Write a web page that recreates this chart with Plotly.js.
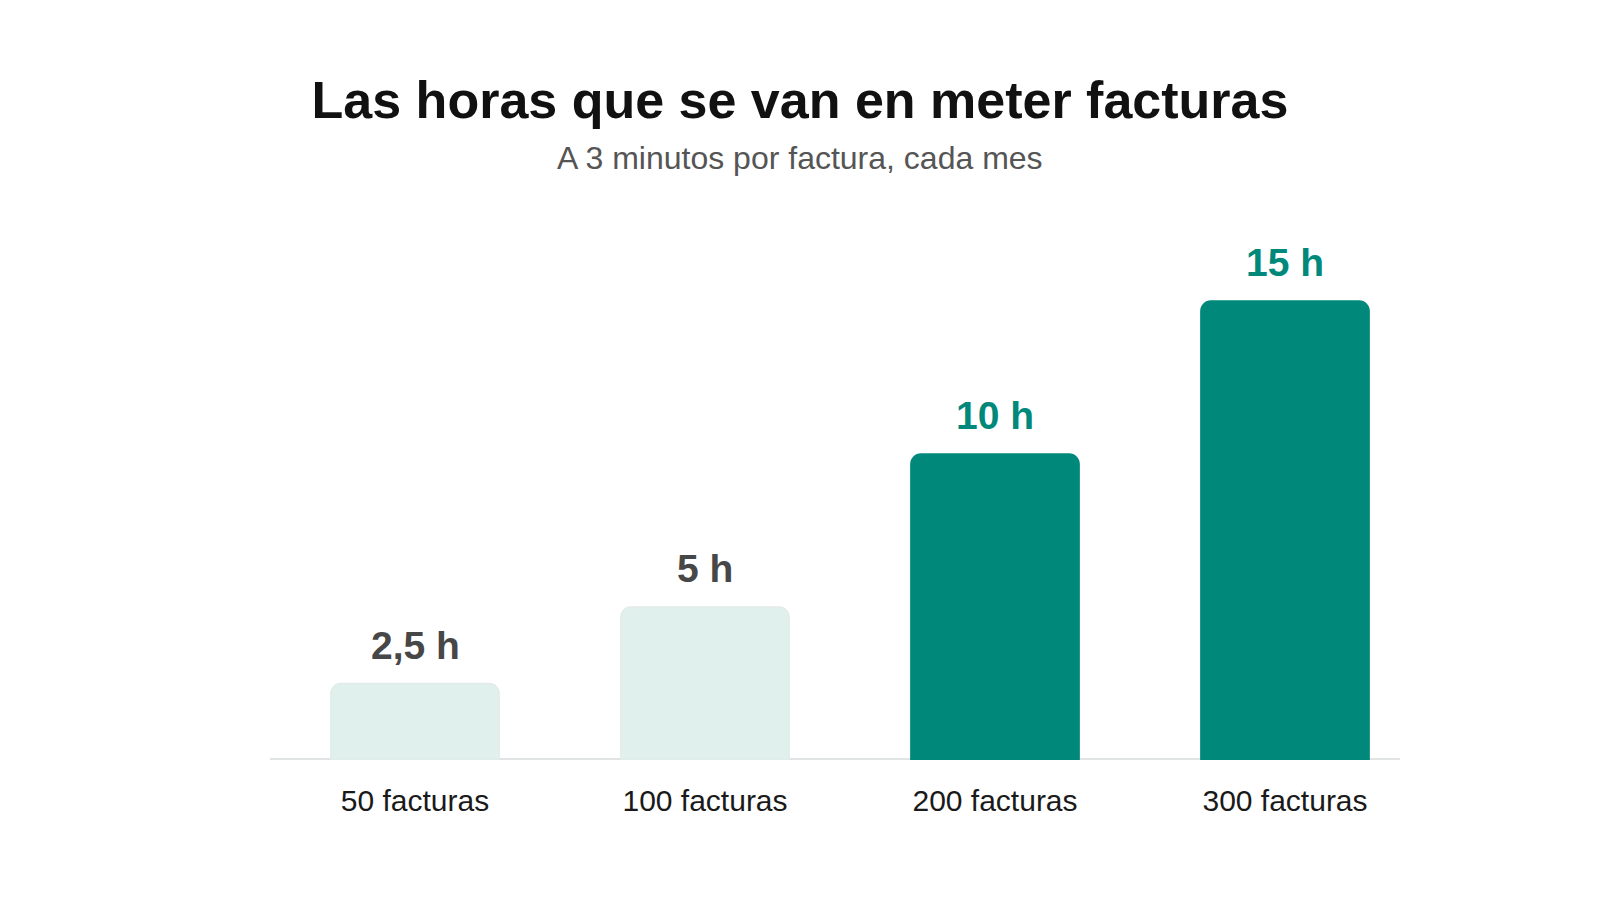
<!DOCTYPE html>
<html>
<head>
<meta charset="utf-8">
<script src="https://cdn.plot.ly/plotly-3.0.1.min.js"></script>
<style>
  html, body { margin: 0; padding: 0; background: #fff; }
  #chart { width: 1600px; height: 900px; }
</style>
</head>
<body>
<div id="chart"></div>
<script>
// data
const categories = ['50 facturas', '100 facturas', '200 facturas', '300 facturas'];
const hours = [2.5, 5, 10, 15];
const labels = ['2,5 h', '5 h', '10 h', '15 h'];
const highlighted = [false, false, true, true];

const TEAL = '#00897b';
const PALE = '#dff0ed';
const FONT = 'Liberation Sans, Arial, sans-serif';

const trace = {
  type: 'bar',
  x: categories,
  y: hours,
  marker: {
    color: highlighted.map(h => h ? TEAL : PALE),
    line: { color: highlighted.map(h => h ? TEAL : '#e2ebe9'), width: 1.5 },
    cornerradius: 10
  },
  hoverinfo: 'skip',
  showlegend: false
};

const annotations = categories.map((c, i) => ({
  x: c,
  y: hours[i],
  xref: 'x',
  yref: 'y',
  text: labels[i],
  showarrow: false,
  yanchor: 'bottom',
  yshift: 15,
  font: { family: FONT, size: 39, color: highlighted[i] ? TEAL : '#474747', weight: 'bold' }
}));

// subtitle
annotations.push({
  xref: 'paper', yref: 'paper',
  x: (800 - 270) / 1160, y: (760 - 158) / 560,
  xanchor: 'center', yanchor: 'middle',
  text: 'A 3 minutos por factura, cada mes',
  showarrow: false,
  font: { family: FONT, size: 32, color: '#555555' }
});

const layout = {
  width: 1600,
  height: 900,
  paper_bgcolor: '#ffffff',
  plot_bgcolor: '#ffffff',
  margin: { l: 270, r: 170, t: 200, b: 140 },
  title: {
    text: '<b>Las horas que se van en meter facturas</b>',
    xref: 'container', yref: 'container',
    x: 0.5, y: 1 - 100 / 900,
    xanchor: 'center', yanchor: 'middle',
    font: { family: FONT, size: 52, color: '#111111' }
  },
  bargap: 0.42,
  xaxis: {
    range: [-0.5, 3.5],
    showgrid: false,
    zeroline: false,
    showline: false,
    ticks: '',
    ticklabelstandoff: 20,
    tickfont: { family: FONT, size: 30, color: '#1a1a1a' }
  },
  yaxis: {
    range: [0, 560 / 30.6],
    showgrid: false,
    zeroline: false,
    showline: false,
    showticklabels: false,
    ticks: ''
  },
  shapes: [{
    type: 'line',
    xref: 'paper', yref: 'y',
    x0: 0, x1: 1130 / 1160,
    y0: 0, y1: 0,
    line: { color: '#e0e4e4', width: 4 },
    layer: 'below'
  }],
  annotations: annotations
};

Plotly.newPlot('chart', [trace], layout, { staticPlot: true, displayModeBar: false });
</script>
</body>
</html>
